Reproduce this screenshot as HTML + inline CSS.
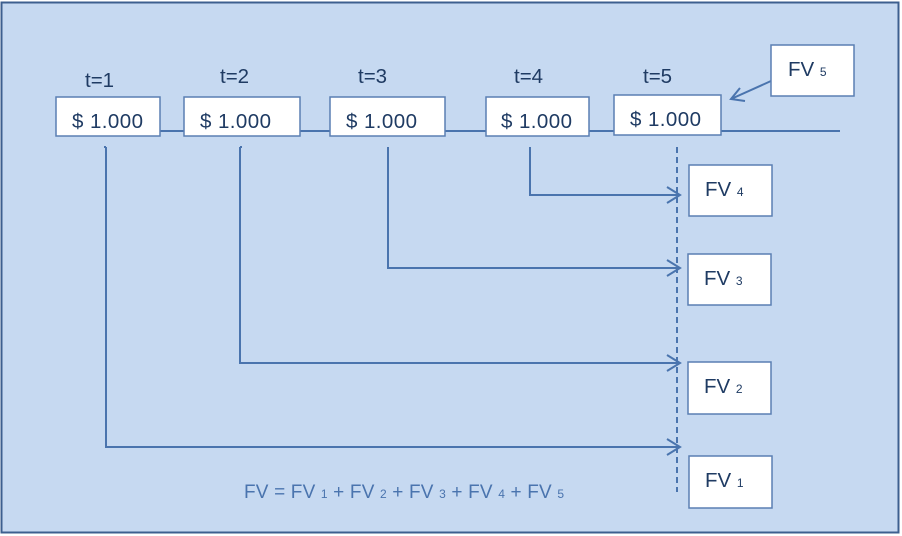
<!DOCTYPE html>
<html><head><style>
body{margin:0;width:902px;height:536px;overflow:hidden;background:#fff}
svg{display:block}
text{font-family:"Liberation Sans",sans-serif;fill:#1f3b63}
</style></head><body>
<svg width="902" height="536" viewBox="0 0 902 536">
<rect x="1.5" y="2.5" width="897" height="530" fill="#c6d9f1" stroke="#3d5f8f" stroke-width="2"/>
<g stroke="#4a74ae" stroke-width="2" fill="none">
<line x1="56" y1="131" x2="840" y2="131"/>
<line x1="677" y1="147" x2="677" y2="492" stroke-dasharray="6,4"/>
<polyline points="106,147 106,447 680,447"/>
<polyline points="104,147 106,147"/>
<polyline points="240,147 240,363 680,363"/>
<polyline points="242,147 240,147"/>
<polyline points="388,147 388,268 680,268"/>
<polyline points="530,147 530,195 680,195"/>
<polyline points="667,187 680,195 667,203"/>
<polyline points="667,260 680,268 667,276"/>
<polyline points="667,355 680,363 667,371"/>
<polyline points="667,439 680,447 667,455"/>
<line x1="771" y1="81" x2="731" y2="99"/>
<polyline points="745,101 731,99 740,88"/>
</g>
<g fill="#fff" stroke="#5a7fb3" stroke-width="1.5">
<rect x="56" y="97" width="104" height="39"/>
<rect x="184" y="97" width="116" height="39"/>
<rect x="330" y="97" width="115" height="39"/>
<rect x="486" y="97" width="103" height="39"/>
<rect x="614" y="95" width="107" height="40"/>
<rect x="771" y="45" width="83" height="51"/>
<rect x="689" y="165" width="83" height="51"/>
<rect x="688" y="254" width="83" height="51"/>
<rect x="688" y="362" width="83" height="52"/>
<rect x="689" y="456" width="83" height="52"/>
</g>
<g font-size="20.5">
<text x="85" y="87">t=1</text>
<text x="220" y="83">t=2</text>
<text x="358" y="83">t=3</text>
<text x="514" y="83">t=4</text>
<text x="643" y="83">t=5</text>
<text x="72" y="128" textLength="71">$ 1.000</text>
<text x="200" y="128" textLength="71">$ 1.000</text>
<text x="346" y="128" textLength="71">$ 1.000</text>
<text x="501" y="128" textLength="71">$ 1.000</text>
<text x="630" y="126" textLength="71">$ 1.000</text>
<text x="788" y="76">FV <tspan font-size="12">5</tspan></text>
<text x="705" y="196">FV <tspan font-size="12">4</tspan></text>
<text x="704" y="285">FV <tspan font-size="12">3</tspan></text>
<text x="704" y="393">FV <tspan font-size="12">2</tspan></text>
<text x="705" y="487">FV <tspan font-size="12">1</tspan></text>
</g>
<text x="244" y="498" font-size="19" textLength="320" style="fill:#4a74ae">FV = FV <tspan font-size="12">1</tspan> + FV <tspan font-size="12">2</tspan> + FV <tspan font-size="12">3</tspan> + FV <tspan font-size="12">4</tspan> + FV <tspan font-size="12">5</tspan></text>
</svg>
</body></html>
